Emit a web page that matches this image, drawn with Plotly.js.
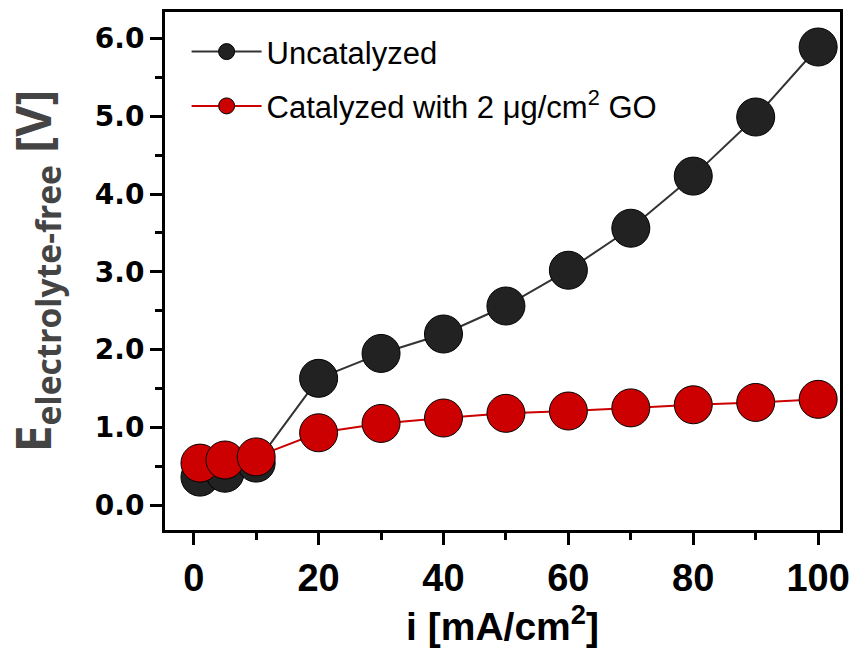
<!DOCTYPE html>
<html>
<head>
<meta charset="utf-8">
<script src="https://cdn.plot.ly/plotly-3.0.1.min.js"></script>
<style>html,body{margin:0;padding:0;background:#fff;}#chart{width:855px;height:652px;}</style>
</head>
<body>
<div id="chart"></div>
<script>
const currentDensity = [1, 5, 10, 20, 30, 40, 50, 60, 70, 80, 90, 100];
const uncatalyzed = [0.36, 0.41, 0.54, 1.63, 1.95, 2.20, 2.56, 3.02, 3.56, 4.23, 4.99, 5.89];
const catalyzed = [0.54, 0.58, 0.62, 0.93, 1.05, 1.12, 1.18, 1.21, 1.25, 1.29, 1.32, 1.36];
const seriesNames = ['Uncatalyzed', 'Catalyzed with 2 μg/cm<sup>2</sup> GO'];

const traces = [
  {
    x: currentDensity, y: uncatalyzed, name: seriesNames[0], legendgroup: 'a',
    type: 'scatter', mode: 'lines+markers',
    line: {color: '#333333', width: 2},
    marker: {color: '#222222', size: 38, line: {color: '#000', width: 1}}
  },
  {
    x: currentDensity, y: catalyzed, name: seriesNames[1], legendgroup: 'b',
    type: 'scatter', mode: 'lines+markers',
    line: {color: '#cc0000', width: 2},
    marker: {color: '#cc0000', size: 38, line: {color: '#000', width: 1}}
  }
];

const layout = {
  width: 855, height: 652,
  margin: {l: 165, r: 15, t: 12, b: 122},
  paper_bgcolor: '#fff', plot_bgcolor: '#fff',
  showlegend: true,
  legend: {
    x: 0.032, y: 0.975, xanchor: 'left', yanchor: 'top',
    bgcolor: 'rgba(0,0,0,0)', traceorder: 'grouped', tracegroupgap: 11,
    itemwidth: 70,
    font: {family: 'Liberation Sans, Arial, sans-serif', size: 31, color: '#000'}
  },
  xaxis: {
    range: [-4.6, 103.5], tickvals: [0, 20, 40, 60, 80, 100],
    ticks: 'outside', ticklen: 12, tickwidth: 3, tickcolor: '#000',
    minor: {tickvals: [10, 30, 50, 70, 90], ticks: 'outside', ticklen: 7, tickwidth: 3, tickcolor: '#000'},
    showline: true, linewidth: 3, linecolor: '#000', mirror: true,
    showgrid: false, zeroline: false,
    tickfont: {family: 'Liberation Sans, Arial, sans-serif', size: 38, color: '#000', weight: 'bold'},
    title: {text: '<b>i [mA/cm<sup>2</sup>]</b>', standoff: 10,
      font: {family: 'Liberation Sans, Arial, sans-serif', size: 39, color: '#000'}}
  },
  yaxis: {
    range: [-0.32, 6.34], dtick: 1, tick0: 0, tickformat: '.1f',
    ticks: 'outside', ticklen: 12, tickwidth: 3, tickcolor: '#000',
    minor: {dtick: 0.5, ticks: 'outside', ticklen: 7, tickwidth: 3, tickcolor: '#000'},
    showline: true, linewidth: 3, linecolor: '#000', mirror: true,
    showgrid: false, zeroline: false,
    tickfont: {family: 'DejaVu Sans, sans-serif', size: 28, color: '#000', weight: 'bold'},
    title: {text: '<b>E<sub>electrolyte-free</sub> [V]</b>', standoff: 30,
      font: {family: 'Open Sans, sans-serif', size: 48, color: '#444444'}}
  }
};

Plotly.newPlot('chart', traces, layout, {displayModeBar: false, staticPlot: true});
</script>
</body>
</html>
